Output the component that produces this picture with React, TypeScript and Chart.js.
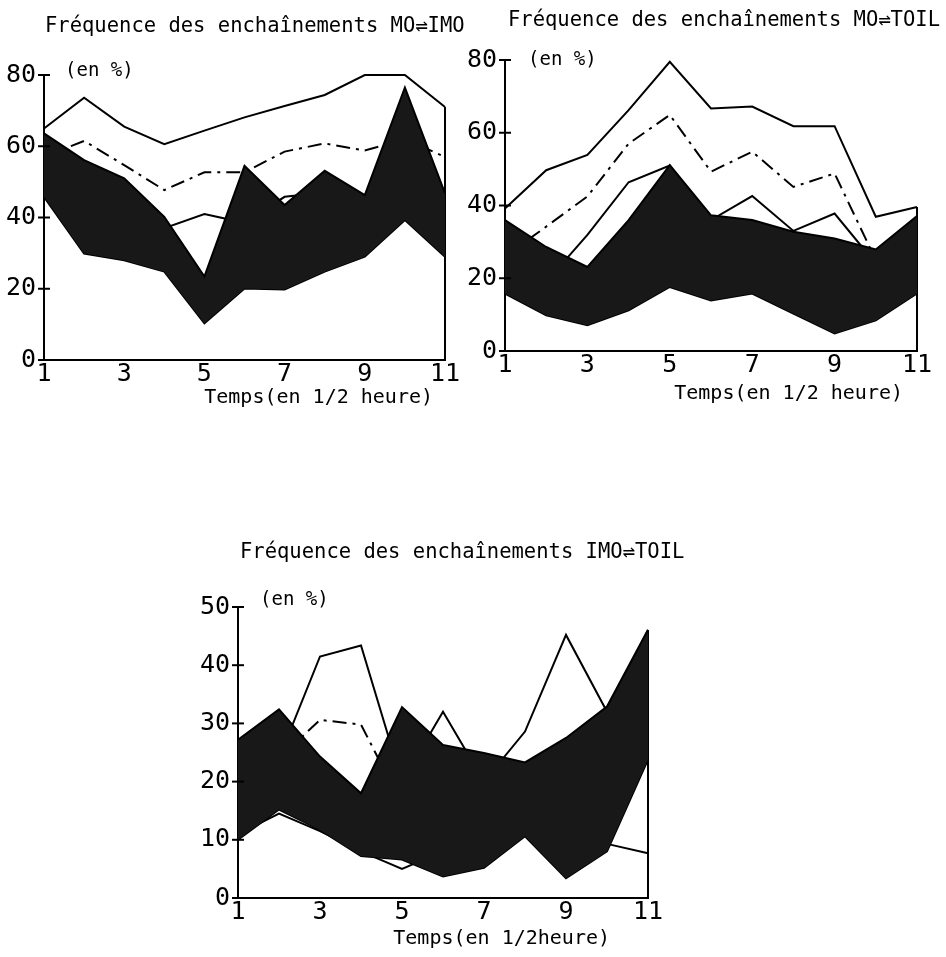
import React, { useEffect, useRef } from 'react';
import { Chart, registerables } from 'chart.js';

Chart.register(...registerables);

// ---------- data ----------
const TIME = [1, 2, 3, 4, 5, 6, 7, 8, 9, 10, 11];

// Fréquence des enchaînements MO⇌IMO
const MO_IMO_MAX = [65, 73.6, 65.5, 60.6, 64.4, 68.1, 71.3, 74.4, 80, 80, 71];
const MO_IMO_MEAN = [57, 61.5, 54.7, 47.7, 52.7, 52.7, 58.5, 60.8, 58.8, 62, 57];
const MO_IMO_MIN = [52, 48, 44, 37, 41, 38.5, 45.8, 47, 45, 55, 45];
const MO_IMO_BAND_HIGH = [63.6, 56.1, 51, 40.2, 23.4, 54.5, 43.5, 53.1, 46.3, 76.5, 46.8];
const MO_IMO_BAND_LOW = [45.8, 29.9, 28, 24.8, 10.3, 20.1, 19.8, 24.8, 29, 39.3, 29];

// Fréquence des enchaînements MO⇌TOIL
const MO_TOIL_MAX = [39.2, 49.7, 53.9, 66.2, 79.5, 66.7, 67.2, 61.8, 61.8, 36.9, 39.6];
const MO_TOIL_MEAN = [26, 34.2, 42.5, 57, 64.9, 49.3, 54.8, 45.1, 48.8, 25, 33];
const MO_TOIL_MIN = [18, 19, 31.9, 46.4, 51, 36, 42.6, 33, 37.8, 24, 35];
const MO_TOIL_BAND_HIGH = [36, 28.6, 23.1, 36, 51.1, 37.3, 36, 32.8, 30.9, 27.9, 37.1];
const MO_TOIL_BAND_LOW = [15.8, 9.8, 7.1, 11.2, 17.6, 13.9, 15.8, 10.3, 4.8, 8.4, 15.8];

// Fréquence des enchaînements IMO⇌TOIL
const IMO_TOIL_MAX = [18, 24, 41.5, 43.4, 20, 32, 20, 28.6, 45.2, 32, 46];
const IMO_TOIL_MEAN = [20, 24, 30.6, 29.8, 16, 18, 17, 17, 19, 22, 28];
const IMO_TOIL_MIN = [11, 14.5, 11.5, 8, 5, 8, 10, 11, 10, 9.3, 7.7];
const IMO_TOIL_BAND_HIGH = [27.2, 32.4, 24.3, 18, 32.8, 26.3, 24.9, 23.3, 27.5, 32.9, 46.1];
const IMO_TOIL_BAND_LOW = [10, 15.2, 11.7, 7.2, 6.6, 3.7, 5.2, 10.6, 3.4, 8, 23.8];

const X_MIN = 1;
const X_MAX = 11;
const X_STEP = 2;

// ---------- styles ----------
const FONT = "'DejaVu Sans Mono', 'Liberation Mono', monospace";
const TITLE_SIZE = 20.5;
const TICK_SIZE = 25;
const LABEL_SIZE = 20;
const UNIT_SIZE = 19;
const BAND_FILL = '#181818';

type Box = { left: number; top: number; width: number; height: number };
type Area = { left: number; right: number; top: number; bottom: number };
type Panel = {
  title: string;
  unit: string;
  xTitle: string;
  yMax: number;
  yStep: number;
  max: number[];
  mean: number[];
  min: number[];
  bandHigh: number[];
  bandLow: number[];
  box: Box;
  area: Area;
  titleOffset: [number, number];
  unitOffset: [number, number];
  xTitleOffset: [number, number];
};

const PANELS: Panel[] = [
  {
    title: 'Fréquence des enchaînements MO⇌IMO',
    unit: '(en %)',
    xTitle: 'Temps(en 1/2 heure)',
    yMax: 80,
    yStep: 20,
    max: MO_IMO_MAX,
    mean: MO_IMO_MEAN,
    min: MO_IMO_MIN,
    bandHigh: MO_IMO_BAND_HIGH,
    bandLow: MO_IMO_BAND_LOW,
    box: { left: 0, top: 0, width: 470, height: 420 },
    area: { left: 44, right: 445, top: 75, bottom: 360 },
    titleOffset: [1, -48],
    unitOffset: [21, -4],
    xTitleOffset: [-12, 38],
  },
  {
    title: 'Fréquence des enchaînements MO⇌TOIL',
    unit: '(en %)',
    xTitle: 'Temps(en 1/2 heure)',
    yMax: 80,
    yStep: 20,
    max: MO_TOIL_MAX,
    mean: MO_TOIL_MEAN,
    min: MO_TOIL_MIN,
    bandHigh: MO_TOIL_BAND_HIGH,
    bandLow: MO_TOIL_BAND_LOW,
    box: { left: 455, top: 0, width: 491, height: 420 },
    area: { left: 50, right: 462, top: 60, bottom: 351 },
    titleOffset: [3, -39],
    unitOffset: [23, 0],
    xTitleOffset: [-14, 43],
  },
  {
    title: 'Fréquence des enchaînements IMO⇌TOIL',
    unit: '(en %)',
    xTitle: 'Temps(en 1/2heure)',
    yMax: 50,
    yStep: 10,
    max: IMO_TOIL_MAX,
    mean: IMO_TOIL_MEAN,
    min: IMO_TOIL_MIN,
    bandHigh: IMO_TOIL_BAND_HIGH,
    bandLow: IMO_TOIL_BAND_LOW,
    box: { left: 190, top: 520, width: 500, height: 437 },
    area: { left: 48, right: 458, top: 87, bottom: 378 },
    titleOffset: [2, -54],
    unitOffset: [22, -7],
    xTitleOffset: [-38, 41],
  },
];

const toPoints = (values: number[]) => values.map((y, i) => ({ x: TIME[i], y }));

const crossTicks = {
  id: 'crossTicks',
  afterDraw(chart: any) {
    const y = chart.scales.y;
    const ctx = chart.ctx;
    const x0 = chart.chartArea.left;
    ctx.save();
    ctx.strokeStyle = '#000';
    ctx.lineWidth = 2;
    y.ticks.forEach((t: any) => {
      const py = y.getPixelForValue(t.value);
      ctx.beginPath();
      ctx.moveTo(x0 - 6, py);
      ctx.lineTo(x0 + 6, py);
      ctx.stroke();
    });
    ctx.restore();
  },
};

// titles and axis captions, placed relative to the chart area
function makeLabels(p: Panel) {
  return {
    id: 'freeLabels',
    afterDraw(chart: any) {
      const { ctx, chartArea } = chart;
      ctx.save();
      ctx.fillStyle = '#000';
      ctx.textBaseline = 'middle';
      ctx.textAlign = 'left';
      ctx.font = `${TITLE_SIZE}px ${FONT}`;
      ctx.fillText(p.title, chartArea.left + p.titleOffset[0], chartArea.top + p.titleOffset[1]);
      ctx.font = `${UNIT_SIZE}px ${FONT}`;
      ctx.fillText(p.unit, chartArea.left + p.unitOffset[0], chartArea.top + p.unitOffset[1]);
      ctx.font = `${LABEL_SIZE}px ${FONT}`;
      ctx.textAlign = 'right';
      ctx.fillText(p.xTitle, chartArea.right + p.xTitleOffset[0], chartArea.bottom + p.xTitleOffset[1]);
      ctx.restore();
    },
  };
}

function PanelChart({ p }: { p: Panel }) {
  const ref = useRef<HTMLCanvasElement | null>(null);
  useEffect(() => {
    if (!ref.current) return;
    const line = (data: any[], extra: any = {}) => ({
      data,
      borderColor: '#000',
      borderWidth: 2,
      pointRadius: 0,
      pointHoverRadius: 0,
      tension: 0,
      fill: false,
      clip: false,
      ...extra,
    });
    const chart = new Chart(ref.current, {
      type: 'line',
      data: {
        datasets: [
          line(toPoints(p.bandHigh), { label: 'band high', fill: '+1', backgroundColor: BAND_FILL, borderWidth: 2 }),
          line(toPoints(p.bandLow), { label: 'band low', borderWidth: 2 }),
          line(toPoints(p.max), { label: 'max' }),
          line(toPoints(p.mean), { label: 'mean', borderDash: [14, 6, 3, 6] }),
          line(toPoints(p.min), { label: 'min' }),
          line(
            [
              { x: TIME[TIME.length - 1], y: p.max[p.max.length - 1] },
              { x: TIME[TIME.length - 1], y: 0 },
            ],
            { label: 'edge' }
          ),
        ],
      },
      options: {
        animation: false,
        responsive: false,
        events: [],
        layout: {
          padding: { left: 0, top: p.area.top, bottom: 0, right: p.box.width - p.area.right },
        },
        plugins: {
          legend: { display: false },
          tooltip: { enabled: false },
          title: { display: false },
        },
        scales: {
          x: {
            type: 'linear',
            min: X_MIN,
            max: X_MAX,
            grid: { display: false, drawTicks: false },
            border: { display: true, color: '#000', width: 2 },
            ticks: {
              stepSize: X_STEP,
              padding: -1,
              color: '#000',
              font: { family: FONT, size: TICK_SIZE },
              maxRotation: 0,
              autoSkip: false,
            },
            afterFit: (s: any) => {
              s.height = p.box.height - p.area.bottom;
            },
          },
          y: {
            type: 'linear',
            min: 0,
            max: p.yMax,
            grid: { display: false, drawTicks: false },
            border: { display: true, color: '#000', width: 2 },
            ticks: {
              stepSize: p.yStep,
              padding: 8,
              color: '#000',
              font: { family: FONT, size: TICK_SIZE },
            },
            afterFit: (s: any) => {
              s.width = p.area.left;
            },
          },
        },
      },
      plugins: [crossTicks, makeLabels(p)],
    } as any);
    return () => chart.destroy();
  }, [p]);
  return (
    <canvas
      ref={ref}
      width={p.box.width}
      height={p.box.height}
      style={{
        position: 'absolute',
        left: p.box.left,
        top: p.box.top,
        width: p.box.width,
        height: p.box.height,
      }}
    />
  );
}

export default function App() {
  return (
    <div style={{ position: 'absolute', left: 0, top: 0, width: 946, height: 957, background: '#fff' }}>
      {PANELS.map((p, i) => (
        <PanelChart key={i} p={p} />
      ))}
    </div>
  );
}
